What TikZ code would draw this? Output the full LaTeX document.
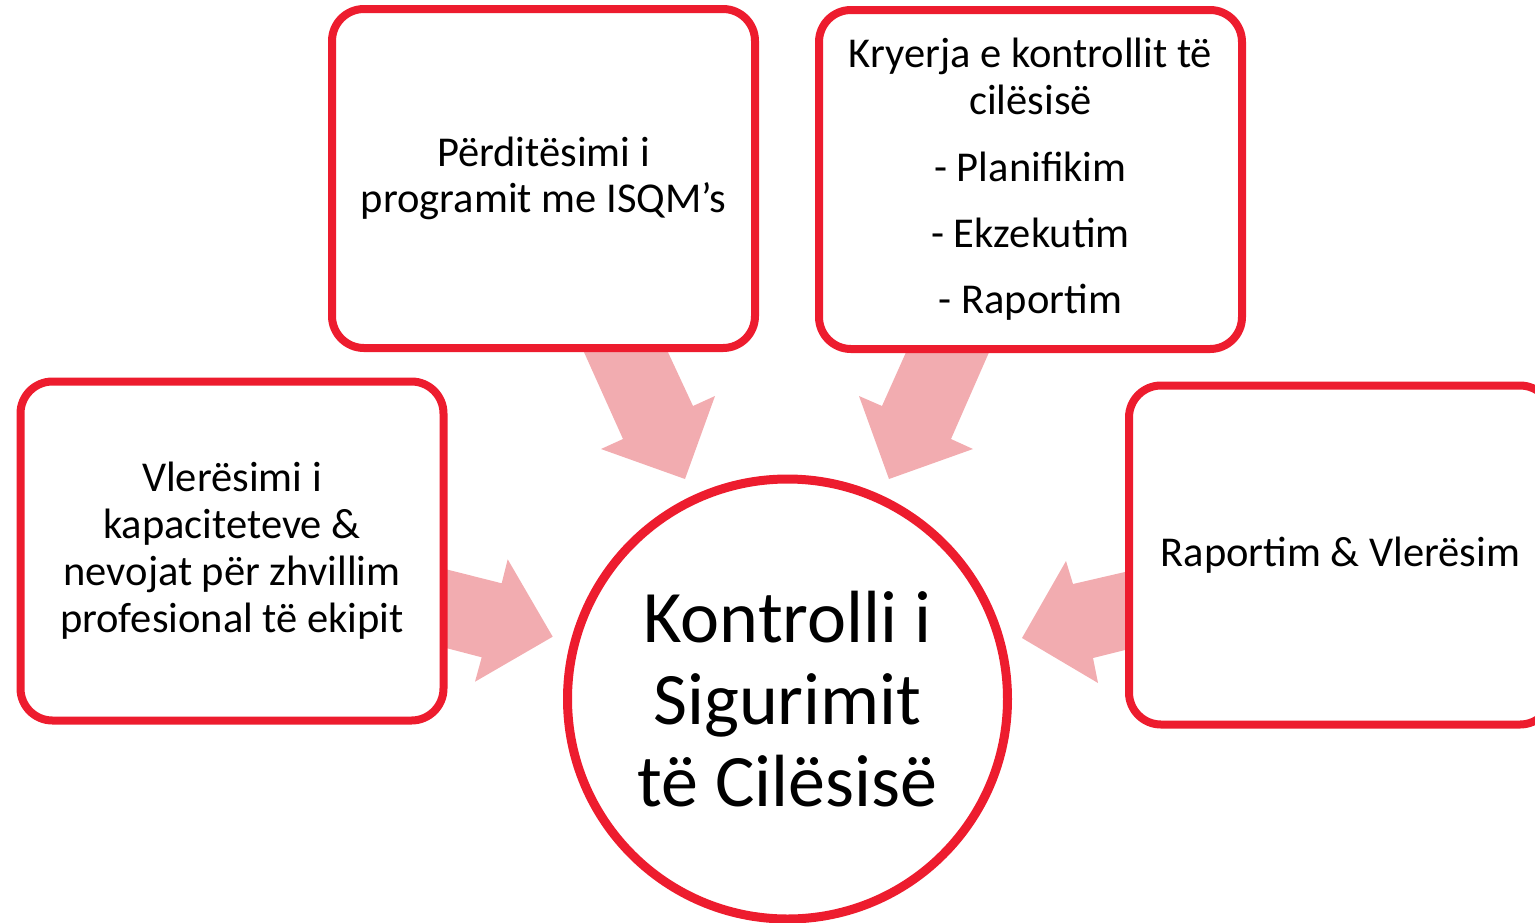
\documentclass[tikz,border=0pt]{standalone}
\usepackage{fontspec}
\setmainfont{Carlito}
\definecolor{bred}{HTML}{ED1C2E}
\definecolor{apink}{HTML}{F2ACB0}
\begin{document}
\begin{tikzpicture}[x=1pt,y=-1pt,
  box/.style={draw=bred,line width=8pt,rounded corners=32pt,fill=white,
    minimum width=423pt,minimum height=339pt,align=center,inner sep=0pt},
  arr/.style={fill=apink,draw=none},
  bodytxt/.style={font=\fontsize{42.5}{46}\selectfont}]
\useasboundingbox (0,0) rectangle (1535,922);
\clip (0,0) rectangle (1535,922);
% block arrows
\fill[arr] (430,565.2) -- (501.7,583.3) -- (507.7,559.3) -- (552.7,636.7) -- (475,681.7) -- (481.7,657.3) -- (430,643.8) -- cycle;
\fill[arr] (576.3,335) -- (623,439) -- (601,449) -- (685,479) -- (715,396) -- (693,406) -- (660,335) -- cycle;
\fill[arr] (913.7,335) -- (882,406) -- (859,396) -- (889,479) -- (973,449) -- (951,439) -- (996.6,335) -- cycle;
\fill[arr] (1140,568.5) -- (1073,584) -- (1066,561) -- (1022,638) -- (1098,683) -- (1093,658) -- (1140,646.3) -- cycle;
% boxes
\node[box,font=\fontsize{42.5}{47}\selectfont] (b1) at (232,551) {Vlerësimi i\\kapaciteteve \&\\nevojat për zhvillim\\profesional të ekipit};
\node[box,bodytxt] (b2) at (543.5,178.5) {Përditësimi i\\programit me ISQM’s};
\node[box,font=\fontsize{42.5}{46.5}\selectfont] (b3) at (1030.5,179.5) {Kryerja e kontrollit të\\cilësisë\\[21pt]- Planifikim\\[19pt]- Ekzekutim\\[20pt]- Raportim};
\node[box,bodytxt] (b4) at (1340.5,555) {Raportim \& Vlerësim};
% circle
\node[circle,draw=bred,line width=9pt,fill=white,minimum size=440pt,inner sep=0pt,
  align=center,font=\fontsize{74}{82}\selectfont] (c) at (787.5,699) {Kontrolli i\\Sigurimit\\të Cilësisë};
\end{tikzpicture}
\end{document}
